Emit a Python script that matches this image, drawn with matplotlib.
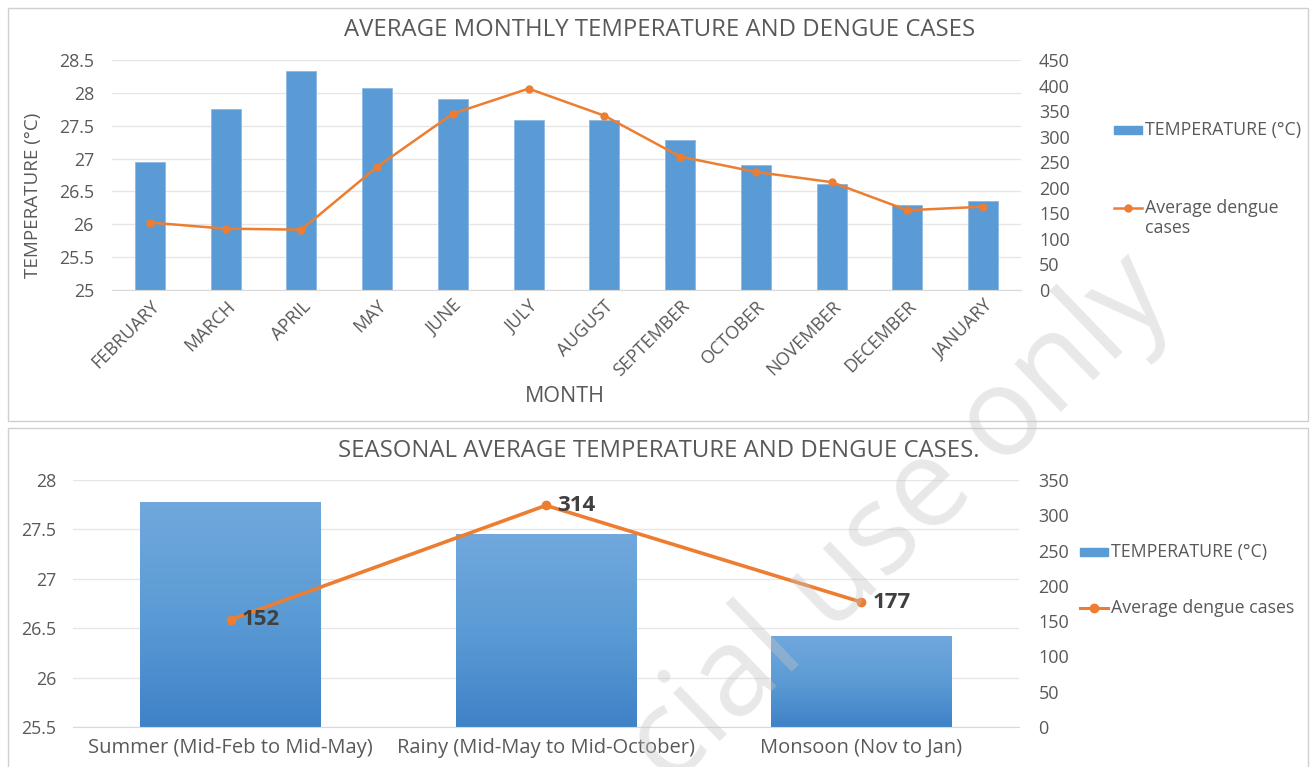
import matplotlib
matplotlib.use("Agg")
import matplotlib.pyplot as plt
import numpy as np
from matplotlib.patches import Rectangle
from matplotlib.lines import Line2D
from matplotlib.colors import LinearSegmentedColormap

# ---------------- data ----------------
months = ["FEBRUARY", "MARCH", "APRIL", "MAY", "JUNE", "JULY", "AUGUST",
          "SEPTEMBER", "OCTOBER", "NOVEMBER", "DECEMBER", "JANUARY"]
monthly_temp = [26.95, 27.76, 28.33, 28.08, 27.91, 27.58, 27.58, 27.28, 26.90, 26.62, 26.29, 26.35]
monthly_dengue = [132, 120, 118, 241, 345, 394, 341, 261, 231, 211, 156, 163]

seasons = ["Summer (Mid-Feb to Mid-May)", "Rainy (Mid-May to Mid-October)", "Monsoon (Nov to Jan)"]
season_temp = [27.78, 27.45, 26.42]
season_dengue = [152, 314, 177]

top_left_ticks = [25, 25.5, 26, 26.5, 27, 27.5, 28, 28.5]
top_right_ticks = [0, 50, 100, 150, 200, 250, 300, 350, 400, 450]
bot_left_ticks = [25.5, 26, 26.5, 27, 27.5, 28]
bot_right_ticks = [0, 50, 100, 150, 200, 250, 300, 350]

# ---------------- style ----------------
FONT = ["Open Sans", "DejaVu Sans"]
plt.rcParams["font.family"] = FONT
GRAY = "#595959"
BLUE = "#5B9BD5"
ORANGE = "#ED7D31"
GRID = "#E6E6E6"

W, H = 1316, 767
fig = plt.figure(figsize=(W / 100, H / 100), dpi=100)
fig.patch.set_facecolor("white")


def fx(px):
    return px / W


def fy(py):
    return 1 - py / H


# panel borders
fig.patches.append(Rectangle((fx(8), fy(421)), fx(1308) - fx(8), fy(8) - fy(421),
                             transform=fig.transFigure, fill=False, ec="#D0D0D0", lw=1.0))
fig.patches.append(Rectangle((fx(8), fy(772)), fx(1308) - fx(8), fy(428) - fy(772),
                             transform=fig.transFigure, fill=False, ec="#D0D0D0", lw=1.0))

# ---------------- top chart ----------------
ax1 = fig.add_axes([fx(112), fy(290), fx(1021) - fx(112), fy(60) - fy(290)])
ax1.set_facecolor("none")
x = np.arange(len(months))
ax1.bar(x, monthly_temp, width=0.395, color=BLUE, edgecolor="#8DB8E3", linewidth=0.6, zorder=2)
ax1.set_xlim(-0.5, len(months) - 0.5)
ax1.set_ylim(25, 28.5)
ax1.set_yticks(top_left_ticks)
ax1.set_yticklabels([f"{v:g}" for v in top_left_ticks])
ax1.set_xticks(x)
ax1.set_xticklabels(months, rotation=45, ha="right", va="top", rotation_mode="anchor")
ax1.grid(axis="y", color=GRID, lw=1.0, zorder=0)
ax1.set_axisbelow(True)
for s in ["top", "right", "left"]:
    ax1.spines[s].set_visible(False)
ax1.spines["bottom"].set_color("#D9D9D9")
ax1.tick_params(axis="both", length=0, colors=GRAY)
ax1.tick_params(axis="x", labelsize=13, pad=5)
ax1.tick_params(axis="y", labelsize=12.8, pad=13)

ax2 = ax1.twinx()
ax2.plot(x, monthly_dengue, color=ORANGE, lw=1.8, marker="o", ms=5, zorder=3)
ax2.set_ylim(0, 450)
ax2.set_yticks(top_right_ticks)
ax2.set_yticklabels([str(v) for v in top_right_ticks])
for s in ["top", "right", "left", "bottom"]:
    ax2.spines[s].set_visible(False)
ax2.tick_params(axis="y", length=0, colors=GRAY, labelsize=13, pad=13)

fig.text(fx(660), fy(30), "AVERAGE MONTHLY TEMPERATURE AND DENGUE CASES",
         ha="center", va="center", fontsize=17.2, color=GRAY)
fig.text(fx(565), fy(397), "MONTH", ha="center", va="center", fontsize=15.5, color=GRAY)
fig.text(fx(33), fy(195), "TEMPERATURE (°C)", ha="center", va="center",
         rotation=90, fontsize=13.5, color=GRAY)

# top legend
fig.patches.append(Rectangle((fx(1114), fy(134)), fx(1142) - fx(1114), fy(126) - fy(134),
                             transform=fig.transFigure, color=BLUE))
fig.text(fx(1145), fy(130), "TEMPERATURE (°C)", ha="left", va="center", fontsize=12.8, color=GRAY)
fig.lines.append(Line2D([fx(1114), fx(1142)], [fy(208), fy(208)], transform=fig.transFigure,
                        color=ORANGE, lw=1.8))
fig.lines.append(Line2D([fx(1128)], [fy(208)], transform=fig.transFigure,
                        color=ORANGE, marker="o", ms=5))
fig.text(fx(1145), fy(208), "Average dengue", ha="left", va="center", fontsize=12.8, color=GRAY)
fig.text(fx(1145), fy(228), "cases", ha="left", va="center", fontsize=12.8, color=GRAY)

# ---------------- bottom chart ----------------
ax3 = fig.add_axes([fx(73), fy(727), fx(1019) - fx(73), fy(480) - fy(727)])
ax3.set_facecolor("none")
xs = np.arange(len(seasons))
bars = ax3.bar(xs, season_temp, width=0.572, color="none", edgecolor="none", zorder=2)
cmap = LinearSegmentedColormap.from_list("g", ["#3F82C7", "#5B9BD5", "#71A8DD"])
grad = np.linspace(0, 1, 256).reshape(-1, 1)
for b in bars:
    x0 = b.get_x()
    im = ax3.imshow(grad, extent=[x0, x0 + b.get_width(), 25.5, b.get_height()],
                    origin="lower", aspect="auto", cmap=cmap, zorder=2)
    im.set_clip_path(b)
ax3.set_xlim(-0.5, len(seasons) - 0.5)
ax3.set_ylim(25.5, 28)
ax3.set_yticks(bot_left_ticks)
ax3.set_yticklabels([f"{v:g}" for v in bot_left_ticks])
ax3.set_xticks(xs)
ax3.set_xticklabels(seasons)
ax3.grid(axis="y", color=GRID, lw=1.0, zorder=0)
ax3.set_axisbelow(True)
for s in ["top", "right", "left"]:
    ax3.spines[s].set_visible(False)
ax3.spines["bottom"].set_color("#D9D9D9")
ax3.tick_params(axis="both", length=0, colors=GRAY)
ax3.tick_params(axis="x", labelsize=14.5, pad=8)
ax3.tick_params(axis="y", labelsize=12.8, pad=12)

ax4 = ax3.twinx()
ax4.plot(xs, season_dengue, color=ORANGE, lw=2.6, marker="o", ms=6, zorder=3)
ax4.set_ylim(0, 350)
ax4.set_yticks(bot_right_ticks)
ax4.set_yticklabels([str(v) for v in bot_right_ticks])
for s in ["top", "right", "left", "bottom"]:
    ax4.spines[s].set_visible(False)
ax4.tick_params(axis="y", length=0, colors=GRAY, labelsize=13, pad=14)
for xi, v in zip(xs, season_dengue):
    ax4.annotate(str(v), (xi, v), xytext=(8, 0), textcoords="offset points",
                 ha="left", va="center", fontsize=16, fontweight="bold", color="#404040")

fig.text(fx(659), fy(451), "SEASONAL AVERAGE TEMPERATURE AND DENGUE CASES.",
         ha="center", va="center", fontsize=17.2, color=GRAY)

# bottom legend
fig.patches.append(Rectangle((fx(1080), fy(556)), fx(1108) - fx(1080), fy(548) - fy(556),
                             transform=fig.transFigure, color=BLUE))
fig.text(fx(1111), fy(552), "TEMPERATURE (°C)", ha="left", va="center", fontsize=12.8, color=GRAY)
fig.lines.append(Line2D([fx(1080), fx(1108)], [fy(608), fy(608)], transform=fig.transFigure,
                        color=ORANGE, lw=2.2))
fig.lines.append(Line2D([fx(1094)], [fy(608)], transform=fig.transFigure,
                        color=ORANGE, marker="o", ms=6))
fig.text(fx(1111), fy(608), "Average dengue cases", ha="left", va="center", fontsize=12.8, color=GRAY)

# watermark (semi-transparent, over everything)
fig.text(fx(900), fy(522), "cial use only", rotation=44, ha="center", va="center",
         fontsize=89, color="#C4C4C4", alpha=0.38, zorder=10,
         family=["Open Sans", "DejaVu Sans"])

fig.savefig("out.png", dpi=100)
